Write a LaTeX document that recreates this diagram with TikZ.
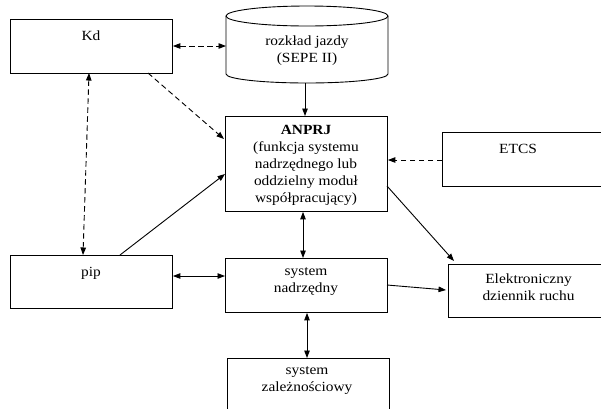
\documentclass[tikz,border=0pt]{standalone}
\usepackage{fontspec}
\setmainfont{Liberation Serif}[FakeStretch=1.1]
\usetikzlibrary{arrows.meta}
\begin{document}
\begin{tikzpicture}[x=1pt,y=-1pt,
  box/.style={draw, line width=0.9pt, inner sep=0pt, minimum width=162pt, minimum height=54pt, anchor=north west},
  ghost/.style={inner sep=0pt, minimum width=162pt, anchor=north west},
  txt/.style={inner sep=0pt, anchor=north, align=center, font=\fontsize{14}{17}\selectfont, execute at begin node=\strut},
  conn/.style={line width=0.9pt},
  dsh/.style={line width=0.9pt, dash pattern=on 5.5pt off 3.5pt},
  tip/.tip={Triangle[length=7.5pt,width=5.5pt]}]
\useasboundingbox (0,0) rectangle (601,408);
\clip (0,0) rectangle (601,408);
% boxes
\node[box] (kd) at (10,19) {};
\node[box, minimum height=53pt] (pip) at (10,255) {};
\node[box, minimum height=95pt] (anprj) at (225,116) {};
\node[box] (etcs) at (442,132) {};
\node[box] (nadr) at (225,258) {};
\node[box] (zal) at (227,358) {};
\node[box, minimum height=53pt] (edr) at (448,264) {};
% cylinder
\node[ghost, minimum height=77pt] (rj) at (226,6) {};
\draw[line width=0.9pt] (226,16) -- (226,74) arc[start angle=180, end angle=0, x radius=81, y radius=9] -- (388,16);
\draw[line width=0.9pt] (307,16) ellipse [x radius=81, y radius=10];
% texts
\node[txt] (kdt) at (91,28.3) {Kd};
\node[txt] (rjt) at (307,35.3) {rozkład jazdy\\(SEPE II)};
\node[txt] (anprjt) at (306,125.3) {\textbf{ANPRJ}\\(funkcja systemu\\nadrzędnego lub\\oddzielny moduł\\współpracujący)};
\node[txt] (etcst) at (518,141.3) {ETCS};
\node[txt] (pipt) at (91,264.3) {pip};
\node[txt] (nadrt) at (306,267.3) {system\\nadrzędny};
\node[txt] (zalt) at (307,366.3) {system\\zależnościowy};
\node[txt] (edrt) at (528.5,273.3) {Elektroniczny\\dziennik ruchu};
% connectors
\coordinate (a1) at (172,46);
\draw[dsh, tip-tip] (kd.east |- a1) -- (rj.west |- a1);
\draw[dsh, -tip] (148,73) -- (224,139);
\draw[dsh, tip-tip] (89,73) -- (83,255);
\draw[conn, -tip] (305,83) -- (305,116);
\coordinate (a2) at (400,160);
\draw[dsh, -tip] (etcs.west |- a2) -- (anprj.east |- a2);
\draw[conn, -tip] (120,255) -- (225,174);
\coordinate (a3) at (303,0);
\draw[conn, tip-tip] (anprj.south -| a3) -- (nadr.north -| a3);
\coordinate (a4) at (0,276);
\draw[conn, tip-tip] (pip.east |- a4) -- (nadr.west |- a4);
\draw[conn, -tip] (387,285) -- (446,290);
\draw[conn, -tip] (387,186) -- (454,261);
\coordinate (a5) at (307,0);
\draw[conn, tip-tip] (nadr.south -| a5) -- (zal.north -| a5);
\end{tikzpicture}
\end{document}
